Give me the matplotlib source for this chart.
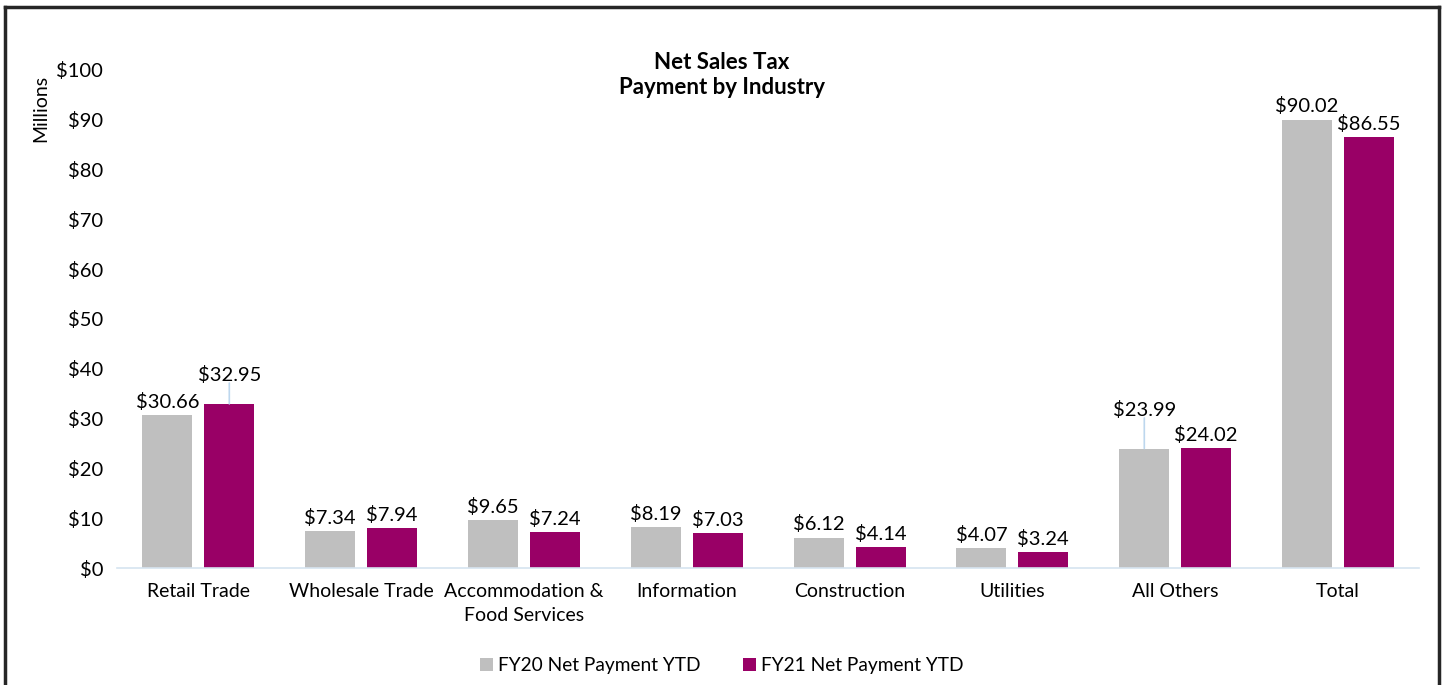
import matplotlib
matplotlib.use("Agg")
import matplotlib.pyplot as plt
from matplotlib.lines import Line2D
import numpy as np

plt.rcParams['font.family'] = ['Lato', 'DejaVu Sans']

categories = ["Retail Trade", "Wholesale Trade", "Accommodation &\nFood Services",
              "Information", "Construction", "Utilities", "All Others", "Total"]
fy20 = [30.66, 7.34, 9.65, 8.19, 6.12, 4.07, 23.99, 90.02]
fy21 = [32.95, 7.94, 7.24, 7.03, 4.14, 3.24, 24.02, 86.55]
series_names = ["FY20 Net Payment YTD", "FY21 Net Payment YTD"]
yticks = np.arange(0, 101, 10)

gray = "#BFBFBF"
plum = "#990066"
leader = "#BDD7EE"

fig = plt.figure(figsize=(14.44, 6.85), dpi=100)
ax = fig.add_axes([0.081, 0.1708, 0.902, 0.7272])

x = np.arange(len(categories))
w = 0.307
off = 0.19
b1 = ax.bar(x - off, fy20, w, color=gray, label=series_names[0])
b2 = ax.bar(x + off, fy21, w, color=plum, label=series_names[1])

# data labels, two of them pushed up with a leader line
lift20 = {6: 18}
lift21 = {0: 11}
for i in range(len(categories)):
    for vals, xs, lift in ((fy20, x - off, lift20), (fy21, x + off, lift21)):
        dy = 3 + lift.get(i, 0)
        ax.annotate("$%.2f" % vals[i], (xs[i], vals[i]), xytext=(0, dy),
                    textcoords="offset points", ha="center", va="bottom", fontsize=14.5)
        if i in lift:
            ax.annotate("", (xs[i], vals[i]), xytext=(0, dy + 1),
                        textcoords="offset points",
                        arrowprops=dict(arrowstyle="-", color=leader, lw=1.2,
                                        shrinkA=0, shrinkB=0))

ax.set_ylim(0, 100)
ax.set_xlim(-0.5, len(categories) - 0.5)
ax.set_yticks(yticks)
ax.set_yticklabels(["$%d" % v for v in yticks], fontsize=14.5)
ax.set_xticks(x)
ax.set_xticklabels(categories, fontsize=14, linespacing=1.45)
ax.tick_params(length=0, pad=11, colors="#000000")
ax.tick_params(axis="y", pad=10)
for s in ["top", "right", "left"]:
    ax.spines[s].set_visible(False)
ax.spines["bottom"].set_color("#D6E4F0")
ax.spines["bottom"].set_linewidth(1.2)

fig.text(0.5, 0.8905, "Net Sales Tax\nPayment by Industry", ha="center", va="center",
         fontsize=16, fontweight="bold", linespacing=1.25)
fig.text(0.028, 0.842, "Millions", rotation=90, ha="center", va="center", fontsize=14)

fig.legend(handles=[b1, b2], loc="center", bbox_to_anchor=(0.5, 0.028), ncol=2,
           frameon=False, fontsize=13.8, handlelength=0.65, handleheight=0.65,
           handletextpad=0.3, columnspacing=2.2)

# outer frame (bottom edge falls outside the picture)
bc = "#262626"
for xs_, ys_ in (([5, 5], [0, 678]), ([5, 1439], [678, 678]), ([1439, 1439], [678, 0])):
    fig.add_artist(Line2D(np.array(xs_) / 1444, np.array(ys_) / 685,
                          color=bc, lw=2.5, transform=fig.transFigure))

fig.savefig("out.png", dpi=100)
